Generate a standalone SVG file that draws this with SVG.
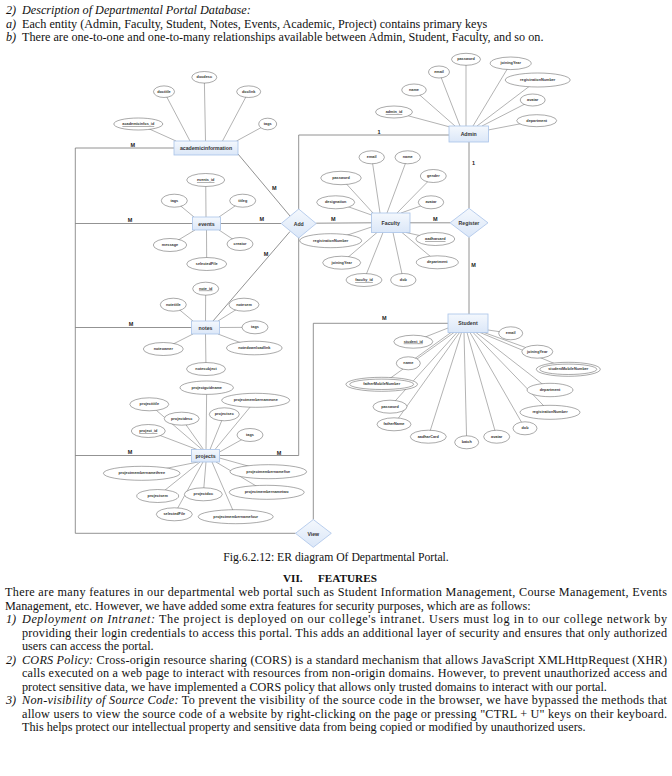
<svg xmlns="http://www.w3.org/2000/svg" width="672" height="776" viewBox="0 0 672 776">
<defs>
<linearGradient id="eg" x1="0" y1="0" x2="0" y2="1"><stop offset="0" stop-color="#f4f8fd"/><stop offset="1" stop-color="#dbe7f8"/></linearGradient>
<style>
.ent{fill:url(#eg);stroke:#a9c3e8;stroke-width:0.8}
.rel{fill:url(#eg);stroke:#a9c3e8;stroke-width:0.8}
.att{fill:#fff;stroke:#555;stroke-width:0.5}
.al{stroke:#666;stroke-width:0.5;fill:none}
.cn{stroke:#777;stroke-width:0.8;fill:none}
.at{font-family:"Liberation Sans",Arial,sans-serif;font-size:3.8px;font-weight:bold;fill:#333;text-anchor:middle;dominant-baseline:central}
.en{font-family:"Liberation Sans",Arial,sans-serif;font-size:5.2px;font-weight:bold;fill:#333;text-anchor:middle;dominant-baseline:central}
.cd{font-family:"Liberation Sans",Arial,sans-serif;font-size:5.5px;font-weight:bold;fill:#222;text-anchor:middle}
.u{text-decoration:underline}
.tx{font-family:"Liberation Serif","Times New Roman",serif;font-size:12.2px;fill:#111}
.it{font-style:italic}
.bd{font-weight:bold}
</style>
</defs>
<rect width="672" height="776" fill="#fff"/>

<!-- top text -->
<g id="intro">
<text class="tx it" x="6" y="14">2)</text><text class="tx it" x="22" y="14">Description of Departmental Portal Database:</text>
<text class="tx it" x="6" y="27.5">a)</text><text class="tx" x="22" y="27.5">Each entity (Admin, Faculty, Student, Notes, Events, Academic, Project) contains primary keys</text>
<text class="tx it" x="6" y="41">b)</text><text class="tx" x="22" y="41">There are one-to-one and one-to-many relationships available between Admin, Student, Faculty, and so on.</text>
</g>

<!-- connectors -->
<g id="connectors">
<polyline class="cn" points="75.3,148 75.3,533.3"/>
<line class="cn" x1="75.3" y1="148" x2="174" y2="148"/>
<line class="cn" x1="75.3" y1="223.5" x2="192.5" y2="223.5"/>
<line class="cn" x1="75.3" y1="327.5" x2="191.5" y2="327.5"/>
<line class="cn" x1="75.3" y1="455.5" x2="191.5" y2="455.5"/>
<line class="cn" x1="75.3" y1="533.3" x2="295.5" y2="533.3"/>
<polyline class="cn" points="449,135 298.7,135 298.7,455.5 219.5,455.5"/>
<line class="cn" x1="238" y1="154" x2="290" y2="216"/>
<line class="cn" x1="220.5" y1="223.5" x2="281.2" y2="223.5"/>
<line class="cn" x1="213" y1="321" x2="290" y2="231.5"/>
<line class="cn" x1="316.2" y1="223.2" x2="371.5" y2="222.8"/>
<line class="cn" x1="410" y1="222.8" x2="450" y2="222.8"/>
<line class="cn" x1="469" y1="142" x2="469" y2="208.3"/>
<line class="cn" x1="469" y1="237.3" x2="469" y2="314"/>
<polyline class="cn" points="448,323.3 313.3,323.3 313.3,519.5"/>
<text class="cd" x="132.7" y="147">M</text>
<text class="cd" x="130" y="222">M</text>
<text class="cd" x="131" y="326">M</text>
<text class="cd" x="130" y="454">M</text>
<text class="cd" x="274.3" y="190">M</text>
<text class="cd" x="261.7" y="221">M</text>
<text class="cd" x="266" y="256">M</text>
<text class="cd" x="279" y="454.5">M</text>
<text class="cd" x="333.3" y="220.5">M</text>
<text class="cd" x="435.3" y="220.5">M</text>
<text class="cd" x="379" y="133.5">1</text>
<text class="cd" x="473.5" y="164.5">1</text>
<text class="cd" x="473.5" y="266.5">M</text>
<text class="cd" x="384.3" y="320">M</text>
</g>

<!-- attribute lines -->
<g id="attr-lines">
<line class="al" x1="138.3" y1="124" x2="176" y2="141"/>
<line class="al" x1="164" y1="91.7" x2="190" y2="141"/>
<line class="al" x1="204.3" y1="77.3" x2="205.5" y2="141"/>
<line class="al" x1="248.7" y1="91.7" x2="222.5" y2="141"/>
<line class="al" x1="267.7" y1="124" x2="236.5" y2="141"/>

<line class="al" x1="394" y1="112" x2="450" y2="127"/>
<line class="al" x1="414" y1="90" x2="455" y2="126"/>
<line class="al" x1="439" y1="72" x2="460" y2="126"/>
<line class="al" x1="466" y1="59.3" x2="466" y2="126"/>
<line class="al" x1="510.7" y1="63.3" x2="473" y2="126"/>
<line class="al" x1="537.7" y1="80" x2="477" y2="126"/>
<line class="al" x1="532.7" y1="100" x2="482" y2="126"/>
<line class="al" x1="536.7" y1="120.7" x2="488" y2="130"/>

<line class="al" x1="371.7" y1="157.3" x2="380" y2="213"/>
<line class="al" x1="407.7" y1="157.3" x2="387" y2="213"/>
<line class="al" x1="341" y1="178" x2="373" y2="213"/>
<line class="al" x1="433.3" y1="176" x2="397" y2="213"/>
<line class="al" x1="335.7" y1="202.3" x2="371.5" y2="215"/>
<line class="al" x1="431" y1="202.3" x2="401" y2="213"/>
<line class="al" x1="330.7" y1="240.7" x2="371.5" y2="227"/>
<line class="al" x1="435.3" y1="239" x2="406" y2="232.5"/>
<line class="al" x1="341.7" y1="262.7" x2="377" y2="232.5"/>
<line class="al" x1="437.3" y1="262.3" x2="402" y2="232.5"/>
<line class="al" x1="364" y1="280" x2="383" y2="232.5"/>
<line class="al" x1="403.3" y1="280" x2="393" y2="232.5"/>

<line class="al" x1="205.7" y1="180" x2="206" y2="217"/>
<line class="al" x1="174.3" y1="200.7" x2="194" y2="217"/>
<line class="al" x1="242.7" y1="200.7" x2="219" y2="217"/>
<line class="al" x1="170" y1="245" x2="195" y2="230"/>
<line class="al" x1="240" y1="244" x2="219" y2="230"/>
<line class="al" x1="206.7" y1="264" x2="206.5" y2="230"/>

<line class="al" x1="205.7" y1="288.7" x2="205.5" y2="321"/>
<line class="al" x1="173.3" y1="304.7" x2="193" y2="321"/>
<line class="al" x1="244" y1="304.7" x2="218" y2="321"/>
<line class="al" x1="255" y1="327.3" x2="219.5" y2="327.5"/>
<line class="al" x1="163.3" y1="349" x2="193" y2="334"/>
<line class="al" x1="254.3" y1="348" x2="218" y2="334"/>
<line class="al" x1="206" y1="369" x2="205.5" y2="334"/>

<line class="al" x1="206.7" y1="387.7" x2="206" y2="449.5"/>
<line class="al" x1="255.7" y1="400.3" x2="215" y2="449.5"/>
<line class="al" x1="149.3" y1="404.3" x2="202" y2="449.5"/>
<line class="al" x1="181.7" y1="418.7" x2="203.5" y2="449.5"/>
<line class="al" x1="224.3" y1="414.3" x2="210" y2="449.5"/>
<line class="al" x1="148.3" y1="431" x2="197" y2="449.5"/>
<line class="al" x1="250" y1="435" x2="219.5" y2="452"/>
<line class="al" x1="141.7" y1="473.3" x2="198" y2="462"/>
<line class="al" x1="268.3" y1="471.7" x2="219.5" y2="458"/>
<line class="al" x1="157.7" y1="496" x2="200" y2="462"/>
<line class="al" x1="203.3" y1="494.3" x2="206" y2="462"/>
<line class="al" x1="266.7" y1="492.3" x2="216" y2="462"/>
<line class="al" x1="174.3" y1="514.3" x2="203" y2="462"/>
<line class="al" x1="235.7" y1="516.7" x2="212" y2="462"/>

<line class="al" x1="413.3" y1="341.7" x2="448" y2="328"/>
<line class="al" x1="408.3" y1="363.3" x2="451" y2="332.5"/>
<line class="al" x1="381.7" y1="384.3" x2="454" y2="332.5"/>
<line class="al" x1="390" y1="406.7" x2="457" y2="332.5"/>
<line class="al" x1="394" y1="424.3" x2="459.5" y2="332.5"/>
<line class="al" x1="428.3" y1="436.7" x2="461.5" y2="332.5"/>
<line class="al" x1="466.7" y1="442.3" x2="464" y2="332.5"/>
<line class="al" x1="496.7" y1="436.7" x2="467" y2="332.5"/>
<line class="al" x1="525" y1="428.3" x2="470" y2="332.5"/>
<line class="al" x1="550" y1="412.3" x2="473" y2="332.5"/>
<line class="al" x1="550" y1="390" x2="476" y2="332.5"/>
<line class="al" x1="568.3" y1="369.3" x2="480" y2="332.5"/>
<line class="al" x1="537.3" y1="351.7" x2="484" y2="332.5"/>
<line class="al" x1="510.7" y1="333.3" x2="488" y2="330"/>
</g>

<!-- entities -->
<g id="academicinformation"><rect class="ent" x="174" y="141" width="64" height="14"/><text class="en" x="206" y="148">academicinformation</text></g>
<g id="admin"><rect class="ent" x="449" y="126" width="39.5" height="16"/><text class="en" x="468.7" y="134">Admin</text></g>
<g id="events"><rect class="ent" x="192.5" y="217" width="28" height="13"/><text class="en" x="206.5" y="223.5">events</text></g>
<g id="faculty"><rect class="ent" x="371.5" y="213" width="38.5" height="19.5"/><text class="en" x="390.7" y="222.7">Faculty</text></g>
<g id="notes"><rect class="ent" x="191.5" y="321" width="28" height="13"/><text class="en" x="205.5" y="327.5">notes</text></g>
<g id="projects"><rect class="ent" x="191.5" y="449.5" width="28" height="12.5"/><text class="en" x="205.5" y="455.8">projects</text></g>
<g id="student"><rect class="ent" x="448" y="314" width="40" height="18.5"/><text class="en" x="468" y="323.3">Student</text></g>

<!-- relationships -->
<g id="add"><polygon class="rel" points="298.7,209 316.2,223.5 298.7,238 281.2,223.5"/><text class="en" x="298.7" y="223.7">Add</text></g>
<g id="register"><polygon class="rel" points="469,208.3 488,222.8 469,237.3 450,222.8"/><text class="en" x="469" y="223">Register</text></g>
<g id="view"><polygon class="rel" points="313.3,519.5 331.3,533.3 313.3,547.3 295.5,533.3"/><text class="en" x="313.3" y="533.5">View</text></g>

<!-- attributes -->
<g id="attrs">
<g id="ac-id"><ellipse class="att" cx="138.3" cy="124" rx="24.5" ry="6"/><text class="at u" x="138.3" y="124">academicinfos_id</text></g>
<g id="ac-doctitle"><ellipse class="att" cx="164" cy="91.7" rx="10.5" ry="5.8"/><text class="at" x="164" y="91.7">doctitle</text></g>
<g id="ac-docdesc"><ellipse class="att" cx="204.3" cy="77.3" rx="12.5" ry="5.8"/><text class="at" x="204.3" y="77.3">docdesc</text></g>
<g id="ac-doclink"><ellipse class="att" cx="248.7" cy="91.7" rx="12" ry="5.8"/><text class="at" x="248.7" y="91.7">doclink</text></g>
<g id="ac-tags"><ellipse class="att" cx="267.7" cy="124" rx="9" ry="5.8"/><text class="at" x="267.7" y="124">tags</text></g>

<g id="ad-id"><ellipse class="att" cx="394" cy="112" rx="18.5" ry="6"/><text class="at u" x="394" y="112">admin_id</text></g>
<g id="ad-name"><ellipse class="att" cx="414" cy="90" rx="12.3" ry="6"/><text class="at" x="414" y="90">name</text></g>
<g id="ad-email"><ellipse class="att" cx="439" cy="72" rx="10.5" ry="6"/><text class="at" x="439" y="72">email</text></g>
<g id="ad-password"><ellipse class="att" cx="466" cy="59.3" rx="14.5" ry="6"/><text class="at" x="466" y="59.3">password</text></g>
<g id="ad-joiningYear"><ellipse class="att" cx="510.7" cy="63.3" rx="20.5" ry="6.3"/><text class="at" x="510.7" y="63.3">joiningYear</text></g>
<g id="ad-registrationNumber"><ellipse class="att" cx="537.7" cy="80" rx="32.5" ry="7"/><text class="at" x="537.7" y="80">registrationNumber</text></g>
<g id="ad-avatar"><ellipse class="att" cx="532.7" cy="100" rx="12.5" ry="6"/><text class="at" x="532.7" y="100">avatar</text></g>
<g id="ad-department"><ellipse class="att" cx="536.7" cy="120.7" rx="20" ry="6"/><text class="at" x="536.7" y="120.7">department</text></g>

<g id="f-email"><ellipse class="att" cx="371.7" cy="157.3" rx="12.7" ry="6.5"/><text class="at" x="371.7" y="157.3">email</text></g>
<g id="f-name"><ellipse class="att" cx="407.7" cy="157.3" rx="12.7" ry="6.5"/><text class="at" x="407.7" y="157.3">name</text></g>
<g id="f-password"><ellipse class="att" cx="341" cy="178" rx="20.3" ry="6.7"/><text class="at" x="341" y="178">password</text></g>
<g id="f-gender"><ellipse class="att" cx="433.3" cy="176" rx="13" ry="6.5"/><text class="at" x="433.3" y="176">gender</text></g>
<g id="f-designation"><ellipse class="att" cx="335.7" cy="202.3" rx="19" ry="6.5"/><text class="at" x="335.7" y="202.3">designation</text></g>
<g id="f-avatar"><ellipse class="att" cx="431" cy="202.3" rx="12.7" ry="6.5"/><text class="at" x="431" y="202.3">avatar</text></g>
<g id="f-registrationNumber"><ellipse class="att" cx="330.7" cy="240.7" rx="31" ry="7"/><text class="at" x="330.7" y="240.7">registrationNumber</text></g>
<g id="f-aadharcard"><ellipse class="att" cx="435.3" cy="239" rx="19.5" ry="6.5"/><text class="at u" x="435.3" y="239">aadharcard</text></g>
<g id="f-joiningYear"><ellipse class="att" cx="341.7" cy="262.7" rx="19" ry="6.5"/><text class="at" x="341.7" y="262.7">joiningYear</text></g>
<g id="f-department"><ellipse class="att" cx="437.3" cy="262.3" rx="21" ry="6.5"/><text class="at" x="437.3" y="262.3">department</text></g>
<g id="f-id"><ellipse class="att" cx="364" cy="280" rx="18" ry="6.5"/><text class="at u" x="364" y="280">faculty_id</text></g>
<g id="f-dob"><ellipse class="att" cx="403.3" cy="280" rx="12.7" ry="6.5"/><text class="at" x="403.3" y="280">dob</text></g>

<g id="e-id"><ellipse class="att" cx="205.7" cy="180" rx="19" ry="6.5"/><text class="at u" x="205.7" y="180">events_id</text></g>
<g id="e-tags"><ellipse class="att" cx="174.3" cy="200.7" rx="13" ry="6.5"/><text class="at" x="174.3" y="200.7">tags</text></g>
<g id="e-titleg"><ellipse class="att" cx="242.7" cy="200.7" rx="13" ry="6.5"/><text class="at" x="242.7" y="200.7">titleg</text></g>
<g id="e-message"><ellipse class="att" cx="170" cy="245" rx="16.7" ry="6.5"/><text class="at" x="170" y="245">message</text></g>
<g id="e-creator"><ellipse class="att" cx="240" cy="244" rx="13" ry="6.5"/><text class="at" x="240" y="244">creator</text></g>
<g id="e-selectedFile"><ellipse class="att" cx="206.7" cy="264" rx="20" ry="6.5"/><text class="at" x="206.7" y="264">selectedFile</text></g>

<g id="n-id"><ellipse class="att" cx="205.7" cy="288.7" rx="13" ry="6.5"/><text class="at u" x="205.7" y="288.7">note_id</text></g>
<g id="n-notetitle"><ellipse class="att" cx="173.3" cy="304.7" rx="13" ry="6.5"/><text class="at" x="173.3" y="304.7">notetitle</text></g>
<g id="n-notesem"><ellipse class="att" cx="244" cy="304.7" rx="15" ry="6.5"/><text class="at" x="244" y="304.7">notesem</text></g>
<g id="n-tags"><ellipse class="att" cx="255" cy="327.3" rx="13" ry="6.5"/><text class="at" x="255" y="327.3">tags</text></g>
<g id="n-noteowner"><ellipse class="att" cx="163.3" cy="349" rx="20" ry="6.5"/><text class="at" x="163.3" y="349">noteowner</text></g>
<g id="n-notedownloadlink"><ellipse class="att" cx="254.3" cy="348" rx="27.8" ry="6.8"/><text class="at" x="254.3" y="348">notedownloadlink</text></g>
<g id="n-notesubject"><ellipse class="att" cx="206" cy="369" rx="19.5" ry="6.5"/><text class="at" x="206" y="369">notesubject</text></g>

<g id="p-guid"><ellipse class="att" cx="206.7" cy="387.7" rx="26.7" ry="6.7"/><text class="at" x="206.7" y="387.7">projectguidname</text></g>
<g id="p-m1"><ellipse class="att" cx="255.7" cy="400.3" rx="34" ry="7"/><text class="at" x="255.7" y="400.3">projectmembernameone</text></g>
<g id="p-title"><ellipse class="att" cx="149.3" cy="404.3" rx="19.5" ry="6.5"/><text class="at" x="149.3" y="404.3">projecttitle</text></g>
<g id="p-desc"><ellipse class="att" cx="181.7" cy="418.7" rx="17.5" ry="6.5"/><text class="at" x="181.7" y="418.7">projectdesc</text></g>
<g id="p-sec"><ellipse class="att" cx="224.3" cy="414.3" rx="15" ry="6.5"/><text class="at" x="224.3" y="414.3">projectsec</text></g>
<g id="p-id"><ellipse class="att" cx="148.3" cy="431" rx="17" ry="6.5"/><text class="at u" x="148.3" y="431">project_id</text></g>
<g id="p-tags"><ellipse class="att" cx="250" cy="435" rx="13" ry="6.5"/><text class="at" x="250" y="435">tags</text></g>
<g id="p-m3"><ellipse class="att" cx="141.7" cy="473.3" rx="38.3" ry="7"/><text class="at" x="141.7" y="473.3">projectmembernamethree</text></g>
<g id="p-m5"><ellipse class="att" cx="268.3" cy="471.7" rx="38.3" ry="7"/><text class="at" x="268.3" y="471.7">projectmembernamefive</text></g>
<g id="p-sem"><ellipse class="att" cx="157.7" cy="496" rx="21" ry="6.5"/><text class="at" x="157.7" y="496">projectsem</text></g>
<g id="p-doc"><ellipse class="att" cx="203.3" cy="494.3" rx="19" ry="6.5"/><text class="at" x="203.3" y="494.3">projectdoc</text></g>
<g id="p-m2"><ellipse class="att" cx="266.7" cy="492.3" rx="37.5" ry="7"/><text class="at" x="266.7" y="492.3">projectmembernametwo</text></g>
<g id="p-file"><ellipse class="att" cx="174.3" cy="514.3" rx="18" ry="6.5"/><text class="at" x="174.3" y="514.3">selectedFile</text></g>
<g id="p-m4"><ellipse class="att" cx="235.7" cy="516.7" rx="37.5" ry="7"/><text class="at" x="235.7" y="516.7">projectmembernamefour</text></g>

<g id="s-id"><ellipse class="att" cx="413.3" cy="341.7" rx="19.5" ry="6.5"/><text class="at u" x="413.3" y="341.7">student_id</text></g>
<g id="s-name"><ellipse class="att" cx="408.3" cy="363.3" rx="12" ry="6.5"/><text class="at" x="408.3" y="363.3">name</text></g>
<g id="s-fmn"><ellipse class="att" cx="381.7" cy="384.3" rx="35.8" ry="7"/><ellipse class="att" cx="381.7" cy="384.3" rx="32" ry="5.2"/><text class="at" x="381.7" y="384.3">fatherMobileNumber</text></g>
<g id="s-password"><ellipse class="att" cx="390" cy="406.7" rx="17" ry="6.5"/><text class="at" x="390" y="406.7">password</text></g>
<g id="s-fatherName"><ellipse class="att" cx="394" cy="424.3" rx="17" ry="6.5"/><text class="at" x="394" y="424.3">fatherName</text></g>
<g id="s-aadharCard"><ellipse class="att" cx="428.3" cy="436.7" rx="18" ry="6.5"/><text class="at" x="428.3" y="436.7">aadharCard</text></g>
<g id="s-batch"><ellipse class="att" cx="466.7" cy="442.3" rx="12" ry="6.5"/><text class="at" x="466.7" y="442.3">batch</text></g>
<g id="s-avatar"><ellipse class="att" cx="496.7" cy="436.7" rx="13" ry="6.5"/><text class="at" x="496.7" y="436.7">avatar</text></g>
<g id="s-dob"><ellipse class="att" cx="525" cy="428.3" rx="12" ry="6.5"/><text class="at" x="525" y="428.3">dob</text></g>
<g id="s-registrationNumber"><ellipse class="att" cx="550" cy="412.3" rx="30" ry="7"/><text class="at" x="550" y="412.3">registrationNumber</text></g>
<g id="s-department"><ellipse class="att" cx="550" cy="390" rx="23" ry="6.7"/><text class="at" x="550" y="390">department</text></g>
<g id="s-smn"><ellipse class="att" cx="568.3" cy="369.3" rx="32" ry="7"/><ellipse class="att" cx="568.3" cy="369.3" rx="28.5" ry="5.2"/><text class="at" x="568.3" y="369.3">studentMobileNumber</text></g>
<g id="s-joiningYear"><ellipse class="att" cx="537.3" cy="351.7" rx="15.5" ry="6.5"/><text class="at" x="537.3" y="351.7">joiningYear</text></g>
<g id="s-email"><ellipse class="att" cx="510.7" cy="333.3" rx="12" ry="6.5"/><text class="at" x="510.7" y="333.3">email</text></g>
</g>

<!-- bottom text -->
<g id="body">
<text class="tx" x="336" y="560.5" text-anchor="middle" style="font-size:11.7px">Fig.6.2.12: ER diagram Of Departmental Portal.</text>
<text class="tx bd" x="283" y="582" style="font-size:11.2px">VII.</text><text class="tx bd" x="318" y="582" style="font-size:11.2px">FEATURES</text>
<text class="tx" x="5" y="596" textLength="662" lengthAdjust="spacing">There are many features in our departmental web portal such as Student Information Management, Course Management, Events</text>
<text class="tx" x="5" y="609.5">Management, etc. However, we have added some extra features for security purposes, which are as follows:</text>
<text class="tx it" x="6" y="623">1)</text>
<text class="tx" x="22" y="623" textLength="645" lengthAdjust="spacing"><tspan class="it">Deployment on Intranet:</tspan> The project is deployed on our college's intranet. Users must log in to our college network by</text>
<text class="tx" x="22" y="636.5" textLength="645" lengthAdjust="spacing">providing their login credentials to access this portal. This adds an additional layer of security and ensures that only authorized</text>
<text class="tx" x="22" y="650">users can access the portal.</text>
<text class="tx it" x="6" y="663.5">2)</text>
<text class="tx" x="22" y="663.5" textLength="645" lengthAdjust="spacing"><tspan class="it">CORS Policy:</tspan> Cross-origin resource sharing (CORS) is a standard mechanism that allows JavaScript XMLHttpRequest (XHR)</text>
<text class="tx" x="22" y="677" textLength="645" lengthAdjust="spacing">calls executed on a web page to interact with resources from non-origin domains. However, to prevent unauthorized access and</text>
<text class="tx" x="22" y="690.5">protect sensitive data, we have implemented a CORS policy that allows only trusted domains to interact with our portal.</text>
<text class="tx it" x="6" y="704">3)</text>
<text class="tx" x="22" y="704" textLength="645" lengthAdjust="spacing"><tspan class="it">Non-visibility of Source Code:</tspan> To prevent the visibility of the source code in the browser, we have bypassed the methods that</text>
<text class="tx" x="22" y="717.5" textLength="645" lengthAdjust="spacing">allow users to view the source code of a website by right-clicking on the page or pressing "CTRL + U" keys on their keyboard.</text>
<text class="tx" x="22" y="731">This helps protect our intellectual property and sensitive data from being copied or modified by unauthorized users.</text>
</g>
</svg>
